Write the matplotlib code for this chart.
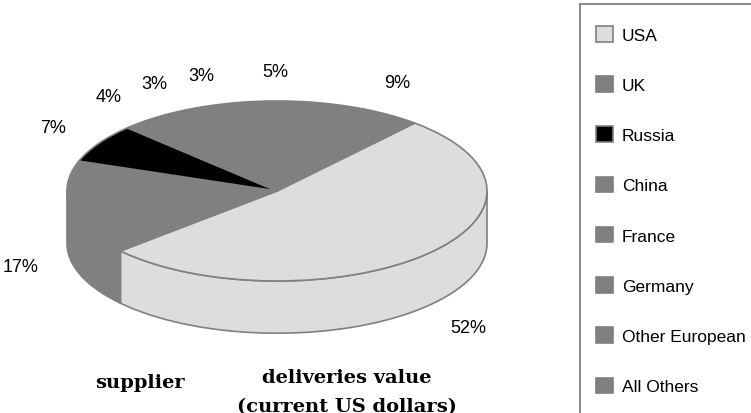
import numpy as np
import matplotlib.pyplot as plt
from matplotlib.patches import Polygon, Rectangle

suppliers = ['USA', 'UK', 'Russia', 'China', 'France', 'Germany',
             'Other European', 'All Others']
shares = [52, 17, 7, 4, 3, 3, 5, 9]
pct_labels = ['52%', '17%', '7%', '4%', '3%', '3%', '5%', '9%']
colors = ['#dddddd', '#808080', '#000000', '#808080', '#808080',
          '#808080', '#808080', '#808080']

W, H = 751, 414
fig = plt.figure(figsize=(W / 100, H / 100), dpi=100)

# pie axes: unit circle drawn as an ellipse (rx=210px, ry=90px)
ax = fig.add_axes([0, 0, 540 / W, 1])
cx, cy, rx, ry = 277, 192, 210, 90
depth = 0.58

wedges, _ = ax.pie(shares, colors=colors, startangle=49, counterclock=False,
                   radius=1, center=(0, 0), frame=True,
                   wedgeprops=dict(edgecolor='#808080', linewidth=1.2, zorder=3))
ax.set_aspect('auto')
ax.set_xlim(-cx / rx, (540 - cx) / rx)
ax.set_ylim(-(H - cy) / ry, cy / ry)
ax.axis('off')

# side walls of the 3d pie (only the front half is visible)
for w in wedges:
    t1, t2 = w.theta1, w.theta2
    for k in (-360, 0, 360):
        a, b = max(t1, -180 + k), min(t2, 0 + k)
        if b <= a:
            continue
        t = np.radians(np.linspace(a, b, 100))
        top = np.column_stack([np.cos(t), np.sin(t)])
        bot = np.column_stack([np.cos(t), np.sin(t) - depth])[::-1]
        ax.add_patch(Polygon(np.vstack([top, bot]), closed=True,
                             facecolor=w.get_facecolor(), edgecolor='#808080',
                             linewidth=1.2, zorder=2))

# percentage labels, pushed a bit sideways like excel does
for w, lab in zip(wedges, pct_labels):
    mid = np.radians((w.theta1 + w.theta2) / 2)
    c, s = np.cos(mid), np.sin(mid)
    x = 1.16 * c + 0.085 * np.clip(c * 3, -1, 1)
    y = 1.33 * s
    if y < 0:
        y -= depth
    ax.text(x, y, lab, ha='center', va='center', fontsize=13,
            family='Liberation Sans', zorder=5)

# legend
fig.legend(wedges, suppliers, loc='upper left',
           bbox_to_anchor=(596 / W, 1 - 27 / H), frameon=False,
           prop=dict(family='Liberation Sans', size=12.5),
           handlelength=1.0, handleheight=1.0, labelspacing=1.93,
           handletextpad=0.5, borderpad=0, borderaxespad=0)
fig.patches.append(Rectangle((580 / W, -0.1), 1, 1.1 - 5 / H,
                             transform=fig.transFigure, fill=False,
                             edgecolor='#8c8c8c', linewidth=1.5))

fig.text(140 / W, 1 - 388 / H, 'supplier', ha='center', va='baseline',
         family='DejaVu Serif', weight='bold', fontsize=14)
fig.text(347 / W, 1 - 412 / H, 'deliveries value\n(current US dollars)',
         ha='center', va='baseline', family='DejaVu Serif', weight='bold',
         fontsize=14, linespacing=1.75, multialignment='center')

fig.savefig('out.png', dpi=100)
